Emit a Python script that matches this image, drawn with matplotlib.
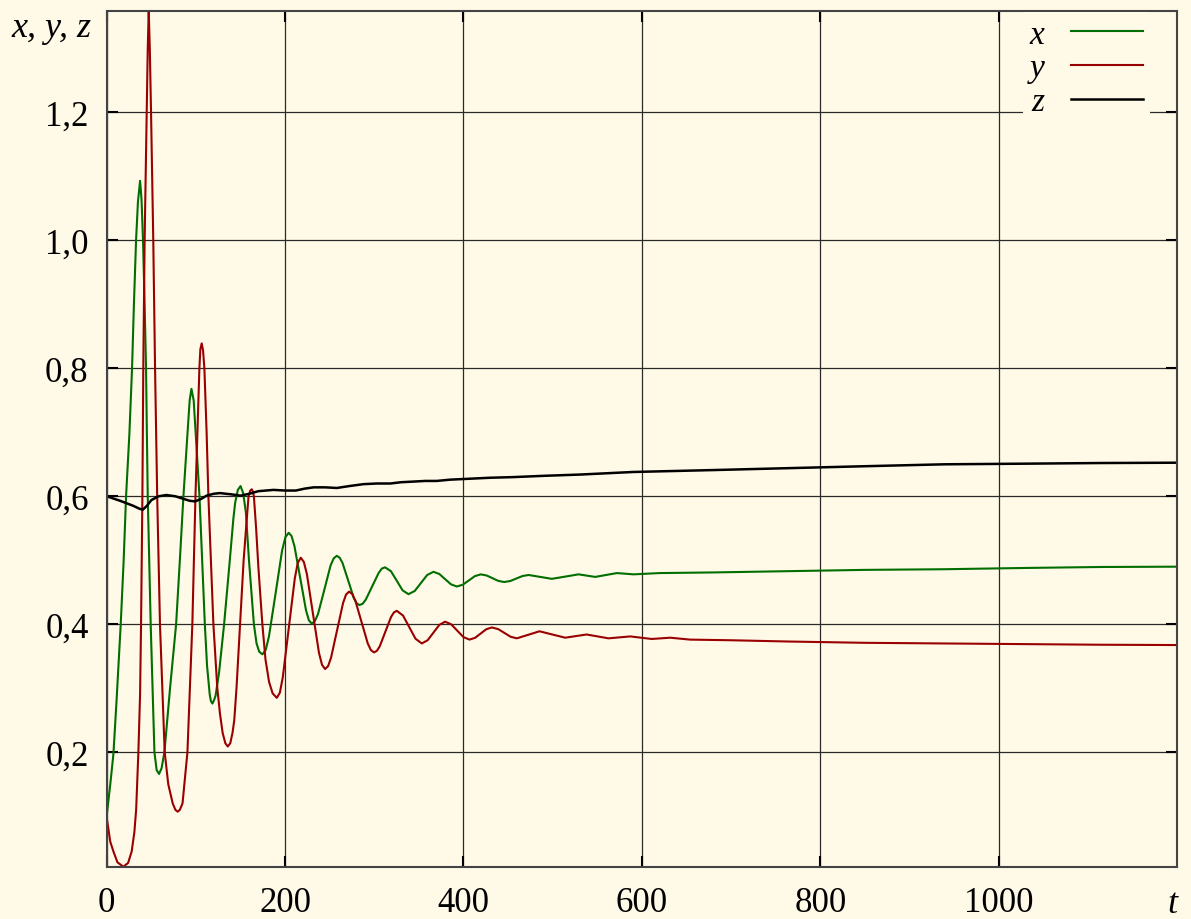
import matplotlib
matplotlib.use('Agg')
import matplotlib.pyplot as plt
from matplotlib.ticker import FuncFormatter

# values
t_x = [0, 4, 7.5, 11, 15.7, 19, 21.7, 25.4, 28.4, 30.5, 32.9, 35, 37.4, 39, 40.7, 42.5, 44.1, 45, 46,
       49.3, 53.5, 56, 58.7, 61.5, 64.7, 71, 77.8, 82, 86, 90.5, 93, 95, 97.5, 99.8, 104, 107, 110,
       112.5, 115.5, 116.8, 118.5, 120.2, 122, 126, 131.6, 138, 142, 144, 147, 150, 153, 156, 159.5,
       165, 168, 171, 174.6, 178.3, 181.9, 189.3, 196.6, 200.3, 204, 207.2, 210.5, 217, 223.4, 226.7,
       229.9, 233.4, 236.9, 244, 251, 254.5, 258, 261.2, 264.3, 270.7, 277, 280.1, 283.3, 286.9,
       290.5, 297.7, 304.8, 308.4, 312, 318.6, 325.2, 331.7, 338.3, 345.3, 352.3, 359.3, 366.3, 372.9,
       379.4, 386, 392.5, 399.2, 406, 412.7, 419.4, 426, 432.5, 439, 445.6, 452.5, 459.3, 466.2, 473,
       486, 499, 514, 529, 547.6, 572, 590.6, 620, 680, 765, 850, 939, 1030, 1114, 1200]
x_vals = [0.101, 0.15, 0.197, 0.28, 0.4, 0.5, 0.6, 0.697, 0.8, 0.9, 1.0, 1.06, 1.093, 1.065, 1.0, 0.9,
          0.8, 0.7, 0.6, 0.4, 0.2, 0.172, 0.166, 0.175, 0.2, 0.3, 0.4, 0.5, 0.6, 0.697, 0.75, 0.768,
          0.75, 0.697, 0.6, 0.5, 0.4, 0.335, 0.29, 0.28, 0.276, 0.281, 0.288, 0.325, 0.4, 0.5, 0.565,
          0.59, 0.610, 0.616, 0.605, 0.575, 0.5, 0.4, 0.37, 0.357, 0.353, 0.360, 0.381, 0.448, 0.515,
          0.536, 0.543, 0.538, 0.522, 0.472, 0.422, 0.406, 0.401, 0.405, 0.416, 0.454, 0.492, 0.503,
          0.507, 0.504, 0.496, 0.4685, 0.441, 0.433, 0.430, 0.432, 0.4386, 0.4595, 0.480, 0.487, 0.489,
          0.483, 0.468, 0.453, 0.447, 0.452, 0.4645, 0.477, 0.482, 0.4786, 0.4705, 0.4624, 0.459,
          0.4618, 0.4685, 0.4752, 0.478, 0.4762, 0.472, 0.4678, 0.466, 0.4676, 0.4715, 0.4754, 0.477,
          0.474, 0.471, 0.4745, 0.478, 0.474, 0.480, 0.478, 0.480, 0.481, 0.483, 0.485, 0.486, 0.488,
          0.4895, 0.490]

t_y = [0, 4, 7.5, 12, 18.7, 24, 28, 31, 33, 35.5, 37.4, 38.5, 40, 41, 42.5, 44.9, 46, 47.1, 48.3, 49.7,
       52.2, 54.2, 56.6, 59.7, 65, 69, 74, 77, 79.6, 82, 85, 90.5, 96, 99.5, 101.7, 103.9, 105, 106.5,
       108, 109.5, 112, 114, 119.6, 124, 127, 130, 133, 135.7, 138.5, 141, 143, 145.5, 149.5, 153.5,
       159, 161, 162.6, 164, 165, 167.5, 170, 174.5, 178, 182, 186, 190.7, 194.1, 197.4, 204.2, 210.9,
       214.2, 217.6, 221, 224.4, 231.2, 238, 241.4, 244.8, 248.2, 251.5, 258.3, 265, 268.3, 271.7,
       275.2, 278.7, 285.7, 292.7, 296.2, 299.7, 302.9, 306.1, 312.5, 318.8, 322, 325.2, 332.2, 339.2,
       346.2, 353.2, 359.8, 366.3, 372.9, 379.4, 386.2, 393.1, 399.9, 406.7, 413, 419.3, 425.5, 431.8,
       438.8, 445.8, 452.8, 459.8, 472.5, 485.2, 499.6, 514, 526, 538, 550.3, 562.6, 574.8, 587, 599,
       611, 621.3, 631.7, 643, 654, 700, 765, 850, 939, 1030, 1114, 1200]
y_vals = [0.098, 0.06, 0.045, 0.028, 0.021, 0.027, 0.045, 0.075, 0.11, 0.2, 0.29, 0.4, 0.6, 0.8, 1.0,
          1.2, 1.3, 1.359, 1.3, 1.2, 1.0, 0.8, 0.6, 0.4, 0.2, 0.15, 0.12, 0.11, 0.107, 0.11, 0.12, 0.2,
          0.4, 0.6, 0.7, 0.8, 0.83, 0.839, 0.828, 0.8, 0.7, 0.6, 0.4, 0.3, 0.26, 0.23, 0.214, 0.209,
          0.214, 0.23, 0.25, 0.3, 0.4, 0.5, 0.6, 0.609, 0.611, 0.607, 0.6, 0.55, 0.49, 0.4, 0.345, 0.31,
          0.292, 0.285, 0.293, 0.317, 0.3945, 0.472, 0.496, 0.504, 0.4974, 0.4786, 0.417, 0.355, 0.3366,
          0.330, 0.3346, 0.3477, 0.3905, 0.4333, 0.4464, 0.451, 0.4474, 0.4371, 0.4035, 0.3699, 0.3596,
          0.356, 0.3585, 0.3655, 0.3885, 0.4115, 0.4185, 0.421, 0.4136, 0.3955, 0.3774, 0.370, 0.375,
          0.387, 0.399, 0.404, 0.3999, 0.390, 0.380, 0.376, 0.3788, 0.3855, 0.3922, 0.395, 0.3925,
          0.3865, 0.3805, 0.378, 0.3835, 0.389, 0.384, 0.379, 0.3815, 0.384, 0.381, 0.378, 0.3795,
          0.381, 0.379, 0.377, 0.378, 0.379, 0.3775, 0.376, 0.375, 0.373, 0.371, 0.370, 0.369, 0.368,
          0.3675]

t_z = [0, 15, 30, 36, 40.4, 45, 50, 58, 67, 77, 86, 93, 99, 106, 112, 120, 127, 140, 150, 160, 170, 187,
       200, 212, 222, 232, 245, 258, 272, 288, 303, 318, 330, 344, 357, 370, 385, 400, 430, 456, 490,
       531, 590, 680, 765, 850, 939, 1030, 1114, 1200]
z_vals = [0.600, 0.593, 0.585, 0.581, 0.579, 0.585, 0.594, 0.600, 0.602, 0.600, 0.596, 0.593, 0.592,
          0.596, 0.601, 0.604, 0.605, 0.603, 0.601, 0.604, 0.608, 0.610, 0.609, 0.609, 0.612, 0.614,
          0.614, 0.613, 0.616, 0.619, 0.620, 0.620, 0.622, 0.623, 0.624, 0.624, 0.626, 0.627, 0.629,
          0.630, 0.632, 0.634, 0.638, 0.641, 0.644, 0.647, 0.650, 0.651, 0.652, 0.6525]

x_ticks = [0, 200, 400, 600, 800, 1000]
y_ticks = [0.2, 0.4, 0.6, 0.8, 1.0, 1.2]

bg = '#fff9e7'
serif = ['Liberation Serif', 'DejaVu Serif']

fig = plt.figure(figsize=(11.91, 9.2), dpi=100, facecolor=bg)
ax = fig.add_axes([0.0896, 0.0568, 0.8987, 0.9305], facecolor=bg)

ax.plot(t_x, x_vals, color='#006e00', lw=1.5, label='x')
ax.plot(t_y, y_vals, color='#990000', lw=1.5, label='y')
ax.plot(t_z, z_vals, color='black', lw=1.8, label='z')

ax.set_xlim(0, 1200)
ax.set_ylim(min(y_vals), max(y_vals))
ax.set_xticks(x_ticks)
ax.set_yticks(y_ticks)
ax.yaxis.set_major_formatter(FuncFormatter(lambda v, p: f'{v:.1f}'.replace('.', ',')))
ax.grid(True, color='#2a2a2a', lw=0.9)
ax.set_axisbelow(True)
ax.tick_params(direction='in', top=True, right=True, length=8, width=1.5, color='black')
ax.tick_params(axis='x', pad=14)
ax.tick_params(axis='y', pad=13)
for lab in ax.get_xticklabels() + ax.get_yticklabels():
    lab.set_family(serif)
    lab.set_fontsize(25)
for s in ax.spines.values():
    s.set_color('#444444')
    s.set_linewidth(1.5)

fig.text(11.7 / 1191, 1 - 37 / 920, 'x, y, z', family=serif, style='italic', fontsize=26,
         va='baseline', ha='left')
fig.text(1172 / 1191, 1 - 913 / 920, 't', family=serif, style='italic', fontsize=26,
         va='baseline', ha='center')

leg = ax.legend(loc='upper right', bbox_to_anchor=(0.9745, 0.998), markerfirst=False, frameon=True,
                facecolor=bg, edgecolor='none', framealpha=1, fancybox=False, handlelength=2.15,
                handletextpad=0.8, labelspacing=0.1, borderpad=0.2, borderaxespad=0.0,
                prop={'family': serif, 'style': 'italic', 'size': 24})

fig.savefig('out.png', dpi=100, facecolor=bg)
